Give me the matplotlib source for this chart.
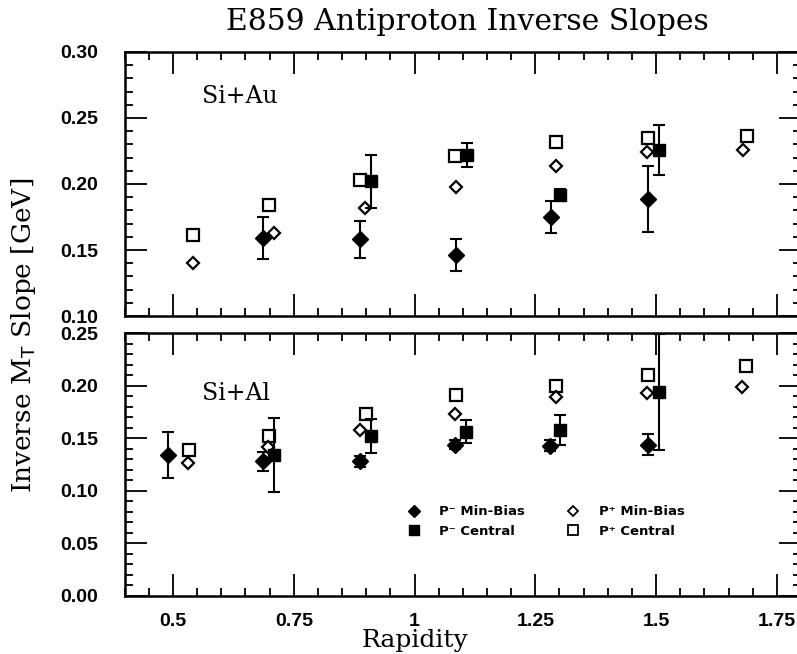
import matplotlib
matplotlib.use("Agg")
import matplotlib.pyplot as plt
from matplotlib.ticker import MultipleLocator, FixedLocator
from matplotlib.lines import Line2D

# Si+Au  (top panel)
au_pm_mb_x = [0.687, 0.888, 1.086, 1.282, 1.484]
au_pm_mb_y = [0.159, 0.158, 0.146, 0.175, 0.189]
au_pm_mb_err = [0.016, 0.014, 0.012, 0.012, 0.025]

au_pm_c_x = [0.909, 1.108, 1.302, 1.506]
au_pm_c_y = [0.202, 0.222, 0.192, 0.226]
au_pm_c_err = [0.020, 0.009, 0.004, 0.019]

au_pp_mb_x = [0.542, 0.709, 0.897, 1.086, 1.292, 1.482, 1.679]
au_pp_mb_y = [0.140, 0.163, 0.182, 0.198, 0.214, 0.224, 0.226]

au_pp_c_x = [0.541, 0.699, 0.888, 1.084, 1.293, 1.484, 1.689]
au_pp_c_y = [0.161, 0.184, 0.203, 0.221, 0.232, 0.235, 0.236]

# Si+Al  (bottom panel)
al_pm_mb_x = [0.490, 0.687, 0.887, 1.084, 1.280, 1.484]
al_pm_mb_y = [0.134, 0.128, 0.128, 0.144, 0.143, 0.144]
al_pm_mb_err = [0.022, 0.009, 0.005, 0.004, 0.005, 0.010]

al_pm_c_x = [0.709, 0.909, 1.106, 1.302, 1.506]
al_pm_c_y = [0.134, 0.152, 0.156, 0.158, 0.194]
al_pm_c_err = [0.035, 0.016, 0.011, 0.014, 0.055]

al_pp_mb_x = [0.532, 0.697, 0.887, 1.084, 1.293, 1.482, 1.677]
al_pp_mb_y = [0.126, 0.142, 0.158, 0.173, 0.189, 0.193, 0.199]

al_pp_c_x = [0.534, 0.699, 0.899, 1.086, 1.293, 1.484, 1.687]
al_pp_c_y = [0.139, 0.152, 0.173, 0.191, 0.200, 0.210, 0.219]

x_ticks = [0.5, 0.75, 1.0, 1.25, 1.5, 1.75]
x_ticklabels = ["0.5", "0.75", "1", "1.25", "1.5", "1.75"]

serif = "DejaVu Serif"
tickfont = {"family": "Liberation Sans", "weight": "bold", "size": 14}

fig = plt.figure(figsize=(7.97, 6.54), dpi=100)
W, H = 797.0, 654.0
left, right = 124.7, 801.0
ax_top = fig.add_axes([left / W, 1 - 316 / H, (right - left) / W, 264 / H])
ax_bot = fig.add_axes([left / W, 1 - 596 / H, (right - left) / W, 263 / H])


def draw_panel(ax, pm_mb, pm_c, pp_mb, pp_c):
    ax.plot(pp_c[0], pp_c[1], ls="none", marker="s", ms=9, mfc="white",
            mec="black", mew=1.6, zorder=2)
    ax.plot(pp_mb[0], pp_mb[1], ls="none", marker="D", ms=6, mfc="white",
            mec="black", mew=1.6, zorder=2)
    ax.errorbar(pm_c[0], pm_c[1], yerr=pm_c[2], fmt="s", ms=9, color="black",
                ecolor="black", elinewidth=1.5, capsize=4.5, capthick=1.5, zorder=3)
    ax.errorbar(pm_mb[0], pm_mb[1], yerr=pm_mb[2], fmt="D", ms=8, color="black",
                ecolor="black", elinewidth=1.5, capsize=4.5, capthick=1.5, zorder=3)
    ax.set_xlim(0.4, 1.8)
    ax.xaxis.set_major_locator(FixedLocator(x_ticks))
    ax.xaxis.set_minor_locator(MultipleLocator(0.05))
    ax.yaxis.set_major_locator(MultipleLocator(0.05))
    ax.yaxis.set_minor_locator(MultipleLocator(0.01))
    ax.tick_params(which="both", direction="in", top=True, right=True, width=1.3)
    ax.tick_params(which="major", length=16)
    ax.tick_params(which="minor", length=6)
    ax.tick_params(axis="y", pad=19)
    for s in ax.spines.values():
        s.set_linewidth(1.8)


draw_panel(ax_top, (au_pm_mb_x, au_pm_mb_y, au_pm_mb_err),
           (au_pm_c_x, au_pm_c_y, au_pm_c_err),
           (au_pp_mb_x, au_pp_mb_y), (au_pp_c_x, au_pp_c_y))
draw_panel(ax_bot, (al_pm_mb_x, al_pm_mb_y, al_pm_mb_err),
           (al_pm_c_x, al_pm_c_y, al_pm_c_err),
           (al_pp_mb_x, al_pp_mb_y), (al_pp_c_x, al_pp_c_y))

ax_top.set_ylim(0.10, 0.30)
ax_bot.set_ylim(0.0, 0.25)

ax_top.set_xticklabels([])
ax_bot.set_xticklabels(x_ticklabels)
ax_top.set_yticks([0.10, 0.15, 0.20, 0.25, 0.30])
ax_top.set_yticklabels(["0.10", "0.15", "0.20", "0.25", "0.30"])
ax_bot.set_yticks([0.0, 0.05, 0.10, 0.15, 0.20, 0.25])
ax_bot.set_yticklabels(["0.00", "0.05", "0.10", "0.15", "0.20", "0.25"])
for ax in (ax_top, ax_bot):
    for lab in ax.get_xticklabels() + ax.get_yticklabels():
        lab.set_fontfamily(tickfont["family"])
        lab.set_fontweight("bold")
        lab.set_fontsize(tickfont["size"])
ax_bot.tick_params(axis="x", pad=12)

ax_top.text(0.114, 0.83, "Si+Au", transform=ax_top.transAxes, family=serif,
            fontsize=17, va="center", ha="left")
ax_bot.text(0.114, 0.77, "Si+Al", transform=ax_bot.transAxes, family=serif,
            fontsize=17, va="center", ha="left")

fig.text(467 / W, 1 - 22 / H, "E859 Antiproton Inverse Slopes", family=serif,
         fontsize=21.5, ha="center", va="center")
fig.text(24 / W, 1 - 335 / H, "Inverse M$_\\mathrm{T}$ Slope [GeV]", family=serif,
         fontsize=19, rotation=90, ha="center", va="center")
ax_bot.set_xlabel("Rapidity", family=serif, fontsize=18)
ax_bot.xaxis.set_label_coords((1.0 - 0.4) / 1.4, -0.125)

handles = [
    Line2D([], [], ls="none", marker="D", ms=6, color="black"),
    Line2D([], [], ls="none", marker="s", ms=7, color="black"),
    Line2D([], [], ls="none", marker="D", ms=5, mfc="white", mec="black", mew=1.3),
    Line2D([], [], ls="none", marker="s", ms=7, mfc="white", mec="black", mew=1.3),
]
labels = ["P\u207b Min-Bias", "P\u207b Central", "P\u207a Min-Bias", "P\u207a Central"]
ax_bot.legend(handles, labels, ncol=2, frameon=False, loc="upper left",
              bbox_to_anchor=(0.40, 0.39), handlelength=1.0, handletextpad=1.4,
              columnspacing=3.2, labelspacing=0.5,
              prop={"family": "DejaVu Sans", "weight": "bold", "size": 9.5})

fig.savefig("out.png", dpi=100)
